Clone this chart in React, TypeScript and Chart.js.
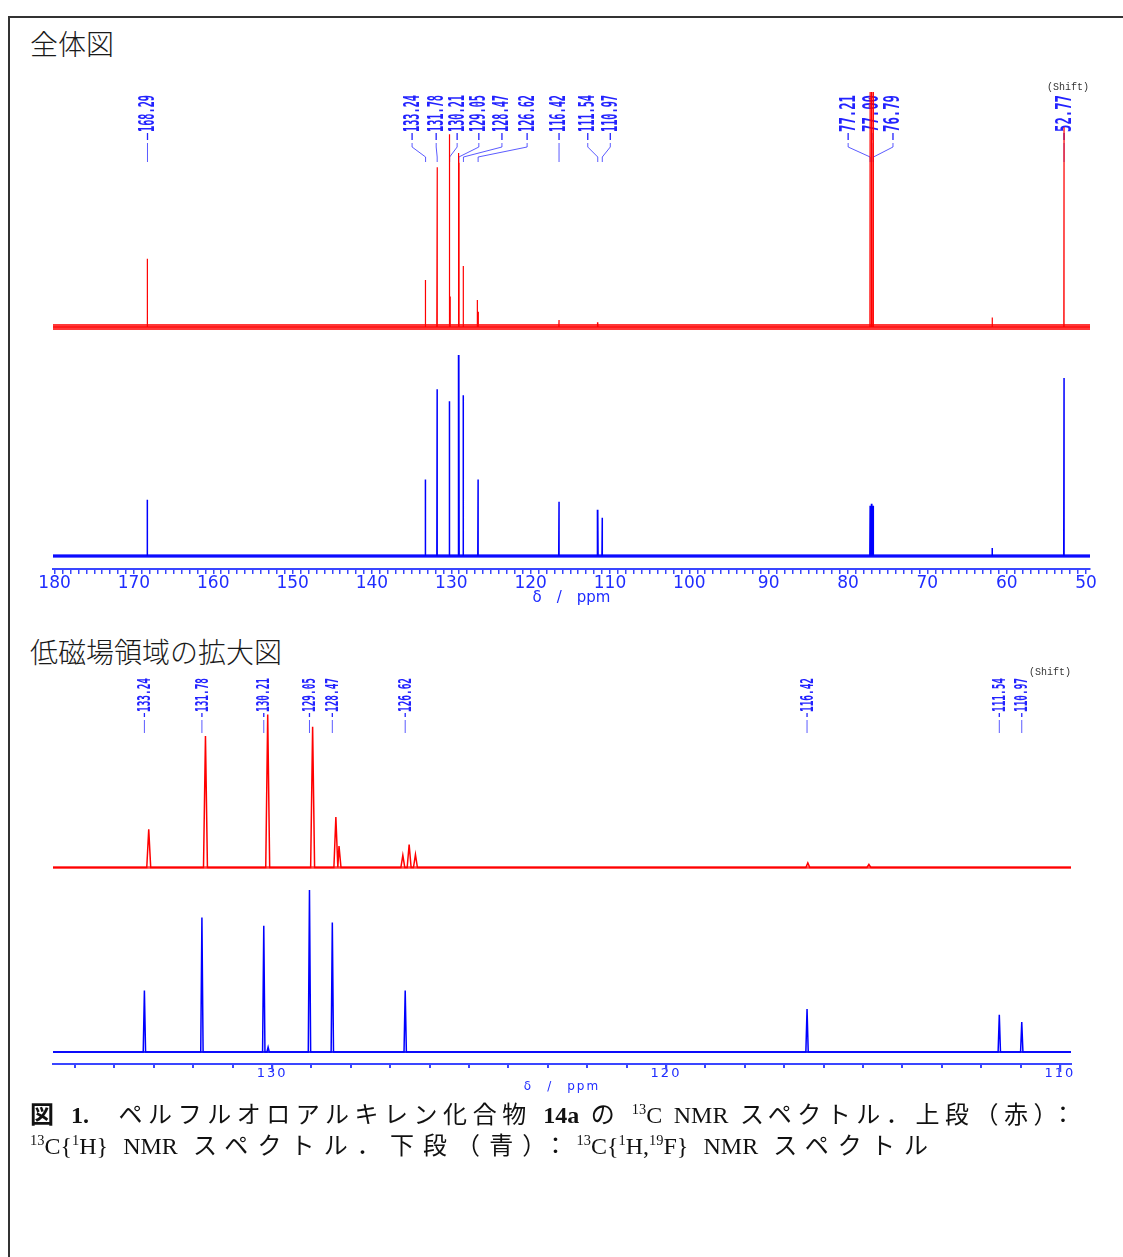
import React, { useEffect, useRef } from 'react';
import { Chart, registerables } from 'chart.js';

Chart.register(...registerables);

// ================= DATA =================
// Overview spectrum (δ 180–50 ppm). Intensities: relative, 100 = tallest line in that trace.
const OVERVIEW_RED_PPM = [168.29, 133.24, 131.80, 131.74, 130.21, 130.12, 129.08, 129.02, 128.47, 126.70, 126.58, 116.42, 111.54, 77.21, 77.00, 76.79, 61.80, 52.77];
const OVERVIEW_RED_INT = [29, 20, 68, 34, 82, 13, 74, 70, 26, 11.5, 6.5, 3, 2, 100, 100, 100, 4, 85];
const OVERVIEW_BLUE_PPM = [168.29, 133.24, 131.78, 130.21, 129.05, 128.47, 126.62, 116.42, 111.54, 110.97, 77.21, 77.00, 76.79, 61.80, 52.77];
const OVERVIEW_BLUE_INT = [28, 38, 83, 77, 100, 80, 38, 27, 23, 19, 25, 26, 25, 4, 88.5];
const OVERVIEW_PEAK_LABELS = [168.29, 133.24, 131.78, 130.21, 129.05, 128.47, 126.62, 116.42, 111.54, 110.97, 77.21, 77.00, 76.79, 52.77];
const OVERVIEW_TICK_LABELS = [180, 170, 160, 150, 140, 130, 120, 110, 100, 90, 80, 70, 60, 50];

// Low-field expansion (δ ~135.5–109.7 ppm)
const ZOOM_RED_PPM = [133.13, 131.69, 130.11, 128.97, 128.38, 128.30, 126.68, 126.52, 126.36, 116.40, 114.85];
const ZOOM_RED_INT = [25, 86, 100, 92, 33, 14, 8, 15, 8.5, 3, 2];
const ZOOM_BLUE_PPM = [133.24, 131.78, 130.21, 130.10, 129.05, 128.47, 126.62, 116.42, 111.54, 110.97];
const ZOOM_BLUE_INT = [38, 83, 78, 3, 100, 80, 38, 26.5, 23, 18.5];
const ZOOM_PEAK_LABELS = [133.24, 131.78, 130.21, 129.05, 128.47, 126.62, 116.42, 111.54, 110.97];
const ZOOM_TICK_LABELS = [130, 120, 110];

// ================= LAYOUT / STYLE =================
const LABEL_COLOR = '#2222ff';
const CONNECTOR_COLOR = 'rgba(50,50,255,0.8)';
const AXIS_COLOR = '#3a46ff';

const OVERVIEW_LABEL_SHIFT = [0, -13.5, -1, 7.5, 20, 38.5, 49, 0, -10, 8, -22, 0, 19.5, 0];
const ZOOM_LABEL_SHIFT = [0, 0, 0, 0, 0, 0, 0, 0, 0];

function spectrumPoints(ppm: number[], inten: number[], halfWidth: number, lo: number, hi: number) {
  const pts: { x: number; y: number }[] = [{ x: lo, y: 0 }];
  ppm.forEach((p, i) => {
    pts.push({ x: p - halfWidth, y: 0 }, { x: p, y: inten[i] }, { x: p + halfWidth, y: 0 });
  });
  pts.push({ x: hi, y: 0 });
  return pts.sort((a, b) => a.x - b.x);
}

type PanelCfg = {
  top: number; width: number; height: number;
  padL: number; padR: number; padT: number; axisH: number;
  xMin: number; xMax: number; step: number; tickLabels: number[];
  redPpm: number[]; redInt: number[]; bluePpm: number[]; blueInt: number[];
  redHW: number; blueHW: number;
  redBase: number; redPx: number; blueBase: number; bluePx: number;
  redBand: number; blueBand: number; redBandColor: string; blueBandColor: string;
  redWidth: number; blueWidth: number;
  labels: number[]; labelShift: number[]; labelFont: number; textBottom: number; textLen: number;
  dash: [number, number]; path: [number, number, number, number];
  shiftX: number; shiftY: number;
  tickFont: number; tickPad: number; tickLen: number; tickWidth: number;
  titleFont: number; titlePad: number; title: string;
  letterSpacing: string; majorExt: number;
};

function SpectrumPanel({ cfg }: { cfg: PanelCfg }) {
  const ref = useRef<HTMLCanvasElement | null>(null);
  useEffect(() => {
    const canvas = ref.current;
    if (!canvas) return;
    const chartBottom = cfg.height - cfg.axisH;
    const yRange = (base: number, px: number) => ({ min: -(chartBottom - base) / px, max: (base - cfg.padT) / px });
    const rr = yRange(cfg.redBase, cfg.redPx);
    const br = yRange(cfg.blueBase, cfg.bluePx);
    const lo = cfg.xMin, hi = cfg.xMax;

    const plugin = {
      id: 'peakLabels',
      beforeDraw(chart: any) {
        chart.ctx.letterSpacing = cfg.letterSpacing;
      },
      beforeDatasetsDraw(chart: any) {
        const ctx = chart.ctx;
        ctx.letterSpacing = '0px';
        const xs = chart.scales.x;
        ctx.save();
        ctx.font = `bold ${cfg.labelFont}px 'DejaVu Sans Mono', 'Liberation Mono', monospace`;
        cfg.labels.forEach((v, i) => {
          const px = xs.getPixelForValue(v);
          const lx = px + (cfg.labelShift[i] || 0);
          const txt = v.toFixed(2);
          const w = ctx.measureText(txt).width;
          ctx.save();
          ctx.translate(lx, cfg.textBottom);
          ctx.rotate(-Math.PI / 2);
          ctx.scale(cfg.textLen / w, 1);
          ctx.fillStyle = LABEL_COLOR;
          ctx.textAlign = 'left';
          ctx.textBaseline = 'middle';
          ctx.fillText(txt, 0, 1);
          ctx.restore();
          ctx.strokeStyle = LABEL_COLOR;
          ctx.lineWidth = 1.3;
          ctx.beginPath();
          ctx.moveTo(lx, cfg.dash[0]);
          ctx.lineTo(lx, cfg.dash[1]);
          ctx.stroke();
          ctx.strokeStyle = CONNECTOR_COLOR;
          ctx.lineWidth = 1;
          ctx.beginPath();
          ctx.moveTo(lx, cfg.path[0]);
          ctx.lineTo(lx, cfg.path[1]);
          ctx.lineTo(px, cfg.path[2]);
          ctx.lineTo(px, cfg.path[3]);
          ctx.stroke();
        });
        ctx.font = "10px 'Liberation Mono', monospace";
        ctx.fillStyle = '#333';
        ctx.textAlign = 'center';
        ctx.textBaseline = 'middle';
        ctx.fillText('(Shift)', cfg.shiftX, cfg.shiftY);
        ctx.restore();
      },
      afterDraw(chart: any) {
        if (!cfg.majorExt) return;
        const ctx = chart.ctx;
        const xs = chart.scales.x;
        ctx.save();
        ctx.strokeStyle = AXIS_COLOR;
        ctx.lineWidth = 1.5;
        cfg.tickLabels.forEach((v) => {
          const x = Math.round(xs.getPixelForValue(v)) + 0.5;
          ctx.beginPath();
          ctx.moveTo(x, chart.chartArea.bottom);
          ctx.lineTo(x, chart.chartArea.bottom + cfg.majorExt);
          ctx.stroke();
        });
        ctx.restore();
      },
    };

    const chart = new Chart(canvas, {
      type: 'line',
      data: {
        datasets: [
          {
            data: spectrumPoints(cfg.redPpm, cfg.redInt, cfg.redHW, lo, hi),
            yAxisID: 'yR', borderColor: '#ff0000', borderWidth: cfg.redWidth,
            pointRadius: 0, tension: 0, fill: false, order: 0,
          },
          {
            data: spectrumPoints(cfg.bluePpm, cfg.blueInt, cfg.blueHW, lo, hi),
            yAxisID: 'yB', borderColor: '#0000ff', borderWidth: cfg.blueWidth,
            pointRadius: 0, tension: 0, fill: false, order: 1,
          },
          {
            data: [{ x: lo, y: 0 }, { x: hi, y: 0 }],
            yAxisID: 'yR', borderColor: cfg.redBandColor, borderWidth: cfg.redBand,
            pointRadius: 0, fill: false, order: 2,
          },
          {
            data: [{ x: lo, y: 0 }, { x: hi, y: 0 }],
            yAxisID: 'yB', borderColor: cfg.blueBandColor, borderWidth: cfg.blueBand,
            pointRadius: 0, fill: false, order: 3,
          },
        ],
      },
      options: {
        responsive: false,
        animation: false,
        events: [],
        layout: { padding: { left: cfg.padL, right: cfg.padR, top: cfg.padT, bottom: 0 } },
        plugins: { legend: { display: false }, tooltip: { enabled: false }, title: { display: false } },
        scales: {
          x: {
            type: 'linear',
            reverse: true,
            min: cfg.xMin,
            max: cfg.xMax,
            offset: false,
            afterFit: (scale: any) => { scale.height = cfg.axisH; },
            border: { display: true, color: AXIS_COLOR, width: 2 },
            grid: {
              drawOnChartArea: false, drawTicks: true, tickLength: cfg.tickLen,
              color: AXIS_COLOR, tickColor: AXIS_COLOR, lineWidth: cfg.tickWidth, offset: false,
            },
            ticks: {
              stepSize: cfg.step, autoSkip: false, includeBounds: false, maxRotation: 0, minRotation: 0,
              padding: cfg.tickPad, color: '#1f2cff',
              font: { family: "'DejaVu Sans', sans-serif", size: cfg.tickFont },
              callback: (v: any) => (cfg.tickLabels.includes(Number(v)) ? String(v) : ''),
            },
            title: {
              display: true, text: cfg.title, color: '#1f2cff',
              font: { family: "'DejaVu Sans', sans-serif", size: cfg.titleFont },
              padding: { top: 0, bottom: cfg.titlePad },
            },
          },
          yR: { type: 'linear', display: false, min: rr.min, max: rr.max },
          yB: { type: 'linear', display: false, min: br.min, max: br.max },
        },
      } as any,
      plugins: [plugin as any],
    });
    return () => chart.destroy();
  }, [cfg]);
  return (
    <canvas
      ref={ref}
      width={cfg.width}
      height={cfg.height}
      style={{ position: 'absolute', left: 0, top: cfg.top, width: cfg.width, height: cfg.height }}
    />
  );
}

const OVERVIEW_CFG: PanelCfg = {
  top: 60, width: 1123, height: 560, padL: 53, padR: 33, padT: 20, axisH: 51,
  xMin: 49.5, xMax: 180.2, step: 1, tickLabels: OVERVIEW_TICK_LABELS,
  redPpm: OVERVIEW_RED_PPM, redInt: OVERVIEW_RED_INT, bluePpm: OVERVIEW_BLUE_PPM, blueInt: OVERVIEW_BLUE_INT,
  redHW: 0.03, blueHW: 0.04,
  redBase: 267, redPx: 2.35, blueBase: 496, bluePx: 2.01,
  redBand: 6, blueBand: 3.5, redBandColor: 'rgba(255,0,0,0.78)', blueBandColor: 'rgba(0,0,255,0.8)',
  redWidth: 1.2, blueWidth: 1.5,
  labels: OVERVIEW_PEAK_LABELS, labelShift: OVERVIEW_LABEL_SHIFT, labelFont: 21, textBottom: 72, textLen: 37,
  dash: [73, 80], path: [83, 87, 97, 102],
  shiftX: 1068, shiftY: 27,
  tickFont: 17, tickPad: -1, tickLen: 5, tickWidth: 1.5, titleFont: 15, titlePad: 13, title: 'δ\u2003/\u2003ppm',
  letterSpacing: '0px', majorExt: 0,
};

const ZOOM_CFG: PanelCfg = {
  top: 660, width: 1123, height: 440, padL: 53, padR: 52, padT: 20, axisH: 36,
  xMin: 109.72, xMax: 135.56, step: 1, tickLabels: ZOOM_TICK_LABELS,
  redPpm: ZOOM_RED_PPM, redInt: ZOOM_RED_INT, bluePpm: ZOOM_BLUE_PPM, blueInt: ZOOM_BLUE_INT,
  redHW: 0.05, blueHW: 0.03,
  redBase: 207.5, redPx: 1.53, blueBase: 392, bluePx: 1.62,
  redBand: 2.5, blueBand: 2, redBandColor: 'rgba(255,0,0,0.75)', blueBandColor: 'rgba(0,0,230,0.8)',
  redWidth: 1.5, blueWidth: 1.5,
  labels: ZOOM_PEAK_LABELS, labelShift: ZOOM_LABEL_SHIFT, labelFont: 18, textBottom: 52, textLen: 34,
  dash: [53, 57], path: [60, 60, 60, 73],
  shiftX: 1050, shiftY: 12,
  tickFont: 13, tickPad: -2, tickLen: 4, tickWidth: 2, titleFont: 12, titlePad: 6, title: 'δ\u2003/\u2003ppm',
  letterSpacing: '2px', majorExt: 8,
};

const sup = (t: string) => (
  <span style={{ fontSize: '0.6em', position: 'relative', top: '-0.6em' }}>{t}</span>
);

export default function App() {
  const titleStyle: React.CSSProperties = {
    position: 'absolute', left: 30, fontFamily: "'Noto Sans CJK JP', sans-serif",
    fontSize: 28, lineHeight: '28px', fontWeight: 300, color: '#1a1a1a', whiteSpace: 'nowrap',
  };
  const capStyle: React.CSSProperties = {
    position: 'absolute', left: 30, fontFamily: "'Liberation Serif', 'Noto Sans CJK JP', serif",
    fontSize: 24, lineHeight: '32px', color: '#111', textAlign: 'justify', textAlignLast: 'justify',
  };
  return (
    <div style={{ position: 'fixed', left: 0, top: 0, width: 1123, height: 1257, overflow: 'hidden', background: '#fff' }}>
      <div style={{ position: 'absolute', left: 8, top: 16, width: 1300, height: 1400, borderTop: '2px solid #333', borderLeft: '2px solid #333' }} />
      <div style={{ ...titleStyle, top: 29 }}>全体図</div>
      <div style={{ ...titleStyle, top: 637 }}>低磁場領域の拡大図</div>
      <SpectrumPanel cfg={OVERVIEW_CFG} />
      <SpectrumPanel cfg={ZOOM_CFG} />
      <div style={{ ...capStyle, top: 1099, width: 1045 }}>
        <b>図 1.</b>{'\u2003'}ペルフルオロアルキレン化合物 <b>14a</b> の {sup('13')}C NMR スペクトル．上段（赤）：
      </div>
      <div style={{ ...capStyle, top: 1130, width: 898 }}>
        {sup('13')}C{'{'}{sup('1')}H{'}'} NMR スペクトル．下段（青）：{sup('13')}C{'{'}{sup('1')}H,{sup('19')}F{'}'} NMR スペクトル
      </div>
    </div>
  );
}
